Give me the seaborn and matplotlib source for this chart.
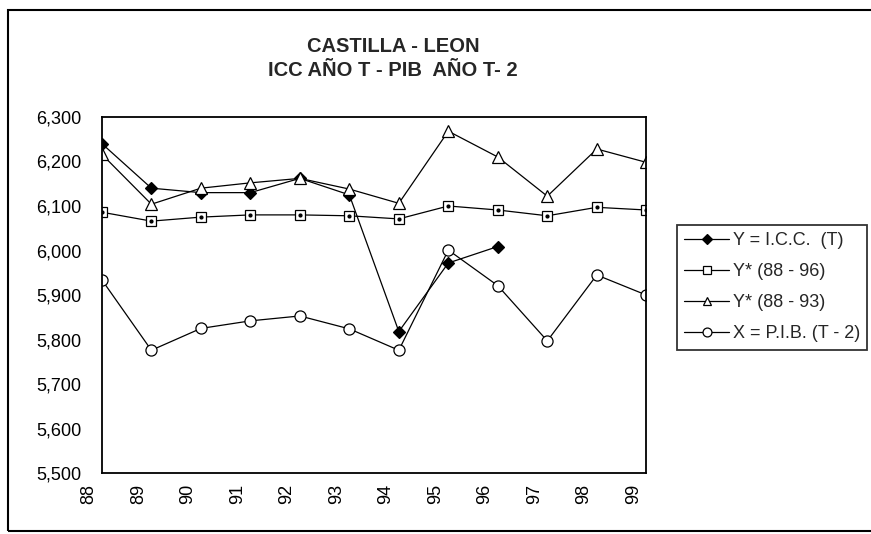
import numpy as np
import pandas as pd
import seaborn as sns
import matplotlib.pyplot as plt
import matplotlib.transforms as mtransforms
from matplotlib.patches import Rectangle
from matplotlib.ticker import FuncFormatter, MultipleLocator


YEARS = [88, 89, 90, 91, 92, 93, 94, 95, 96, 97, 98, 99]
ICC_T = [6240, 6140, 6130, 6130, 6162, 6125, 5818, 5972, 6009,
         np.nan, np.nan, np.nan]
Y_88_96 = [6086, 6066, 6075, 6080, 6080, 6078, 6071, 6100, 6091,
           6078, 6097, 6091]
Y_88_93 = [6216, 6104, 6140, 6152, 6162, 6138, 6106, 6268, 6210,
           6122, 6228, 6198]
PIB_T2 = [5934, 5776, 5825, 5842, 5853, 5824, 5776, 6001, 5921,
          5797, 5945, 5900]

LABELS = ['Y = I.C.C.  (T)', 'Y* (88 - 96)', 'Y* (88 - 93)',
          'X = P.I.B. (T - 2)']
TITLE_1 = 'CASTILLA - LEON'
TITLE_2 = 'ICC AÑO T - PIB  AÑO T- 2'


sns.set_style('white')
plt.rcParams['font.family'] = ['Liberation Sans', 'DejaVu Sans']

df = pd.DataFrame({'year': YEARS, 'icc': ICC_T, 'y96': Y_88_96,
                   'y93': Y_88_93, 'pib': PIB_T2})

fig = plt.figure(figsize=(8.71, 5.34), dpi=100)
ax = fig.add_axes([0.117, 0.114, 0.625, 0.667])

line_kw = dict(color='black', linewidth=0.9, markeredgecolor='black',
               markeredgewidth=0.9)
sns.lineplot(data=df, x='year', y='icc', ax=ax, marker='D', markersize=6,
             markerfacecolor='black', label=LABELS[0], **line_kw)
sns.lineplot(data=df, x='year', y='y96', ax=ax, marker='s', markersize=7,
             markerfacecolor='white', label=LABELS[1], **line_kw)
ax.plot(df['year'], df['y96'], linestyle='none', marker='o', markersize=2,
        color='black')
sns.lineplot(data=df, x='year', y='y93', ax=ax, marker='^', markersize=8,
             markerfacecolor='white', label=LABELS[2], **line_kw)
sns.lineplot(data=df, x='year', y='pib', ax=ax, marker='o', markersize=8,
             markerfacecolor='white', label=LABELS[3], **line_kw)

ax.set_xlim(88, 99)
ax.set_ylim(5500, 6300)
ax.yaxis.set_major_locator(MultipleLocator(100))
ax.yaxis.set_major_formatter(FuncFormatter(lambda v, p: '{:,.0f}'.format(v)))
ax.set_xticks(YEARS)
ax.set_xticklabels([str(y) for y in YEARS], rotation=90)
ax.set_xlabel('')
ax.set_ylabel('')
ax.tick_params(axis='both', direction='inout', length=8, width=1.1,
               labelsize=13, colors='black')
ax.tick_params(axis='x', pad=4)
ax.tick_params(axis='y', pad=11)
offset = mtransforms.ScaledTranslation(-0.13, 0, fig.dpi_scale_trans)
for lbl in ax.get_xticklabels():
    lbl.set_transform(lbl.get_transform() + offset)
for sp in ax.spines.values():
    sp.set_visible(True)
    sp.set_color('black')
    sp.set_linewidth(1.3)

fig.text(0.451, 0.913, TITLE_1, ha='center', va='center', fontsize=14.5,
         fontweight='bold')
fig.text(0.451, 0.868, TITLE_2, ha='center', va='center', fontsize=14.5,
         fontweight='bold')

leg = ax.legend(loc='upper left', bbox_to_anchor=(0.7772, 0.579),
                bbox_transform=fig.transFigure, frameon=True, fancybox=False,
                edgecolor='black', fontsize=13, handlelength=2.5,
                handletextpad=0.2, labelspacing=0.78, borderpad=0.4,
                borderaxespad=0, markerscale=0.8)
leg.get_frame().set_linewidth(1.3)

fig.patches.append(Rectangle((0.009, 0.006), 1.2, 0.975,
                             transform=fig.transFigure, fill=False,
                             edgecolor='black', linewidth=1.5))

fig.savefig('out.png', dpi=100, facecolor='white')
